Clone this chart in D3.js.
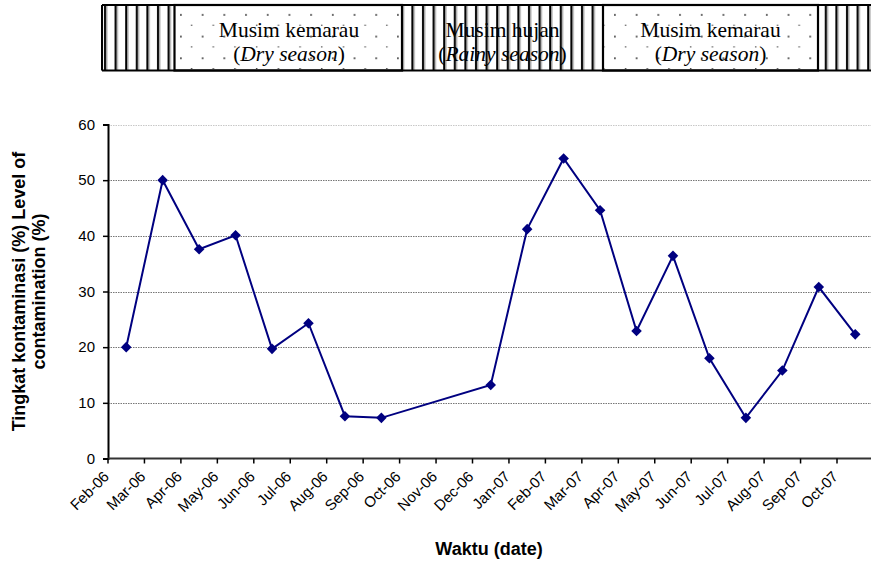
<!DOCTYPE html>
<html>
<head>
<meta charset="utf-8">
<script src="https://cdn.jsdelivr.net/npm/d3@7"></script>
<style>
  html, body { margin: 0; padding: 0; background: #fff; }
  svg { display: block; }
</style>
</head>
<body>
<svg id="chart" width="871" height="562"></svg>
<script>
// ---- data ----
const categories = ["Feb-06","Mar-06","Apr-06","May-06","Jun-06","Jul-06","Aug-06","Sep-06","Oct-06","Nov-06","Dec-06",
                    "Jan-07","Feb-07","Mar-07","Apr-07","May-07","Jun-07","Jul-07","Aug-07","Sep-07","Oct-07"];
const contamination = [20.0, 50.0, 37.6, 40.1, 19.7, 24.3, 7.6, 7.3, null, null, 13.2,
                       41.2, 53.9, 44.6, 22.9, 36.4, 18.0, 7.3, 15.8, 30.8, 22.3];
const yTicks = [0, 10, 20, 30, 40, 50, 60];
const seasonTop = ["Musim kemarau", "Musim hujan", "Musim kemarau"];
const seasonBottom = ["Dry season", "Rainy season", "Dry season"];

(function () {
// ---- layout ----
const svg = d3.select("#chart");
const pLeft = 108, pTop = 124.5, pBottom = 458.5;
const bandW = 36.45;
const pRight = pLeft + categories.length * bandW;

const x = d3.scaleBand().domain(categories).range([pLeft, pRight]).paddingInner(0).paddingOuter(0);
const y = d3.scaleLinear().domain([0, 60]).range([pBottom, pTop]);

// ---- banner ----
const defs = svg.append("defs");
const stripe = defs.append("pattern").attr("id", "stripes").attr("patternUnits", "userSpaceOnUse")
  .attr("width", 10.6).attr("height", 10).attr("x", 102);
stripe.append("rect").attr("x", 0).attr("y", 0).attr("width", 10.6).attr("height", 10).attr("fill", "#fff");
stripe.append("rect").attr("x", 2).attr("y", 0).attr("width", 2).attr("height", 10).attr("fill", "#000");
stripe.append("rect").attr("x", 4).attr("y", 0).attr("width", 1.3).attr("height", 10).attr("fill", "#999");

const dots = defs.append("pattern").attr("id", "dots").attr("patternUnits", "userSpaceOnUse")
  .attr("width", 21.7).attr("height", 21.7).attr("x", 180).attr("y", 4);
dots.append("rect").attr("width", 21.7).attr("height", 21.7).attr("fill", "#fff");
dots.append("rect").attr("x", 0).attr("y", 10).attr("width", 1.8).attr("height", 1.8).attr("fill", "#555");
dots.append("rect").attr("x", 10.8).attr("y", 20.8).attr("width", 1.5).attr("height", 1.5).attr("fill", "#222");

const bTop = 5, bBot = 70.5;
const sections = [
  {x0: 102, x1: 174.5, fill: "url(#stripes)", box: false},
  {x0: 174.5, x1: 402, fill: "url(#dots)", box: true},
  {x0: 402, x1: 603, fill: "url(#stripes)", box: false},
  {x0: 603, x1: 818, fill: "url(#dots)", box: true},
  {x0: 818, x1: 880, fill: "url(#stripes)", box: false}
];
const banner = svg.append("g");
banner.selectAll("rect.sec").data(sections).enter().append("rect")
  .attr("x", d => d.x0).attr("y", bTop).attr("width", d => d.x1 - d.x0).attr("height", bBot - bTop)
  .attr("fill", d => d.fill);
banner.selectAll("rect.box").data(sections.filter(d => d.box)).enter().append("rect")
  .attr("x", d => d.x0).attr("y", bTop).attr("width", d => d.x1 - d.x0).attr("height", bBot - bTop)
  .attr("fill", "none").attr("stroke", "#000").attr("stroke-width", 2.2);
banner.append("line").attr("x1", 102).attr("x2", 880).attr("y1", bTop).attr("y2", bTop)
  .attr("stroke", "#000").attr("stroke-width", 2);
banner.append("line").attr("x1", 102).attr("x2", 880).attr("y1", bBot).attr("y2", bBot)
  .attr("stroke", "#000").attr("stroke-width", 2.2);
banner.append("line").attr("x1", 102).attr("x2", 102).attr("y1", bTop).attr("y2", bBot)
  .attr("stroke", "#000").attr("stroke-width", 2);

const textCenters = [289, 502.5, 710.5];
const serif = "'Liberation Serif', 'Times New Roman', serif";
seasonTop.forEach((t, i) => {
  banner.append("text").attr("x", textCenters[i]).attr("y", 37)
    .attr("text-anchor", "middle").attr("font-family", serif)
    .attr("font-size", 21.5).attr("fill", "#000").text(t);
  const tt = banner.append("text").attr("x", textCenters[i]).attr("y", 61)
    .attr("text-anchor", "middle").attr("font-family", serif)
    .attr("font-size", 21.5).attr("fill", "#000");
  tt.append("tspan").text("(");
  tt.append("tspan").attr("font-style", "italic").text(seasonBottom[i]);
  tt.append("tspan").text(")");
});

// ---- gridlines ----
const grid = svg.append("g");
grid.selectAll("line").data(yTicks.filter(v => v > 0)).enter().append("line")
  .attr("x1", pLeft).attr("x2", pRight).attr("y1", d => Math.round(y(d)) + 0.5).attr("y2", d => Math.round(y(d)) + 0.5)
  .attr("stroke", d => d === 60 ? "#c8c8c8" : "#777").attr("stroke-width", 1)
  .attr("stroke-dasharray", "1.5,1");

// ---- axes ----
const font = "'Liberation Sans', Arial, sans-serif";
const yAxis = svg.append("g").attr("transform", `translate(${pLeft},0)`)
  .call(d3.axisLeft(y).tickValues(yTicks).tickSize(5).tickPadding(8));
yAxis.select(".domain").attr("stroke", "#000").attr("stroke-width", 2);
yAxis.selectAll(".tick line").attr("stroke", "#000").attr("stroke-width", 1.5);
yAxis.selectAll(".tick text").attr("font-family", font).attr("font-size", 15).attr("fill", "#000");

// x axis: ticks between categories, labels at ticks
const xg = svg.append("g");
xg.append("line").attr("x1", pLeft).attr("x2", pRight).attr("y1", pBottom).attr("y2", pBottom)
  .attr("stroke", "#333").attr("stroke-width", 2);
xg.selectAll("line.tk").data(categories).enter().append("line")
  .attr("x1", d => x(d)).attr("x2", d => x(d)).attr("y1", pBottom).attr("y2", pBottom + 5)
  .attr("stroke", "#000").attr("stroke-width", 1.5);
xg.selectAll("text").data(categories).enter().append("text")
  .attr("transform", d => `translate(${x(d) + 2},${pBottom + 19}) rotate(-45)`)
  .attr("text-anchor", "end")
  .attr("font-family", font).attr("font-size", 15).attr("fill", "#000")
  .text(d => d);

// ---- line & markers ----
const pts = categories.map((c, i) => ({c, v: contamination[i]})).filter(d => d.v !== null);
const line = d3.line().x(d => x(d.c) + x.bandwidth() / 2).y(d => y(d.v));
svg.append("path").datum(pts).attr("d", line)
  .attr("fill", "none").attr("stroke", "#000080").attr("stroke-width", 2);
svg.selectAll("path.mk").data(pts).enter().append("path")
  .attr("d", d3.symbol().type(d3.symbolSquare).size(56))
  .attr("transform", d => `translate(${x(d.c) + x.bandwidth() / 2},${y(d.v)}) rotate(45)`)
  .attr("fill", "#000080");

// ---- titles ----
svg.append("text").attr("x", 489).attr("y", 555).attr("text-anchor", "middle")
  .attr("font-family", font).attr("font-weight", "bold").attr("font-size", 18).text("Waktu (date)");
const yl = svg.append("text").attr("transform", `translate(25,${(pTop + pBottom) / 2}) rotate(-90)`)
  .attr("text-anchor", "middle").attr("font-family", font).attr("font-weight", "bold").attr("font-size", 18);
yl.append("tspan").attr("x", 0).attr("dy", 0).text("Tingkat kontaminasi (%) Level of");
yl.append("tspan").attr("x", 0).attr("dy", 20).text("contamination (%)");
})();
</script>
</body>
</html>
